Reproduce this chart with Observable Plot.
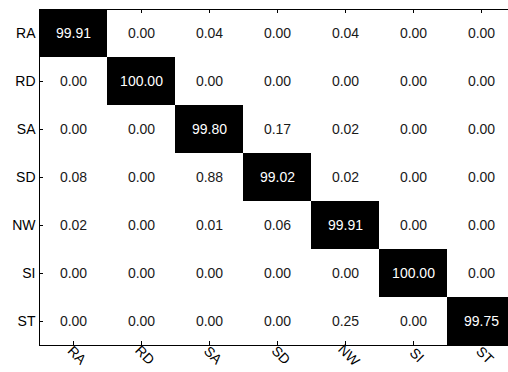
<!DOCTYPE html>
<html>
<head>
<meta charset="utf-8">
<script src="https://cdn.jsdelivr.net/npm/d3@7"></script>
<script src="https://cdn.jsdelivr.net/npm/@observablehq/plot@0.6"></script>
<style>
  html, body { margin: 0; padding: 0; background: #fff; }
</style>
</head>
<body>
<div id="chart"></div>
<script>
const classes = ["RA", "RD", "SA", "SD", "NW", "SI", "ST"];
const rowRA = [99.91, 0.00, 0.04, 0.00, 0.04, 0.00, 0.00];
const rowRD = [0.00, 100.00, 0.00, 0.00, 0.00, 0.00, 0.00];
const rowSA = [0.00, 0.00, 99.80, 0.17, 0.02, 0.00, 0.00];
const rowSD = [0.08, 0.00, 0.88, 99.02, 0.02, 0.00, 0.00];
const rowNW = [0.02, 0.00, 0.01, 0.06, 99.91, 0.00, 0.00];
const rowSI = [0.00, 0.00, 0.00, 0.00, 0.00, 100.00, 0.00];
const rowST = [0.00, 0.00, 0.00, 0.00, 0.25, 0.00, 99.75];
const matrix = [rowRA, rowRD, rowSA, rowSD, rowNW, rowSI, rowST];

const cells = [];
matrix.forEach((row, i) => row.forEach((v, j) => {
  cells.push({actual: classes[i], predicted: classes[j], value: v, diag: i === j});
}));

const W = 508, H = 372;
const mL = 39, mT = 9, mB = 27, mR = -7;
const fw = W - mR - mL, fh = H - mB - mT;
const tick = 4;

const plot = Plot.plot({
  width: W,
  height: H,
  marginLeft: mL,
  marginTop: mT,
  marginBottom: mB,
  marginRight: mR,
  style: {fontFamily: "'Liberation Sans', Arial, sans-serif", fontSize: "14px", background: "#fff", overflow: "visible"},
  x: {type: "band", domain: classes, padding: 0, axis: null},
  y: {type: "band", domain: classes, padding: 0, axis: null},
  marks: [
    Plot.cell(cells, {x: "predicted", y: "actual", fill: d => d.diag ? "#000" : "#fff"}),
    Plot.tickY(classes, {y: d => d, stroke: "#000", insetRight: fw - tick}),
    Plot.tickX(classes, {x: d => d, stroke: "#000", insetBottom: fh - tick}),
    Plot.tickX(classes, {x: d => d, stroke: "#000", insetTop: fh - tick}),
    Plot.frame({stroke: "#000"}),
    Plot.text(cells, {
      x: "predicted", y: "actual",
      text: d => d.value.toFixed(2),
      fill: d => d.diag ? "#fff" : "#1a1a1a",
      fontSize: 14
    }),
    Plot.text(classes, {y: d => d, frameAnchor: "left", dx: -4, textAnchor: "end", fill: "#000", fontSize: 14}),
    Plot.text(classes, {x: d => d, frameAnchor: "bottom", dy: 13, rotate: 45, textAnchor: "middle", fill: "#000", fontSize: 14})
  ]
});
document.getElementById("chart").appendChild(plot);
</script>
</body>
</html>
